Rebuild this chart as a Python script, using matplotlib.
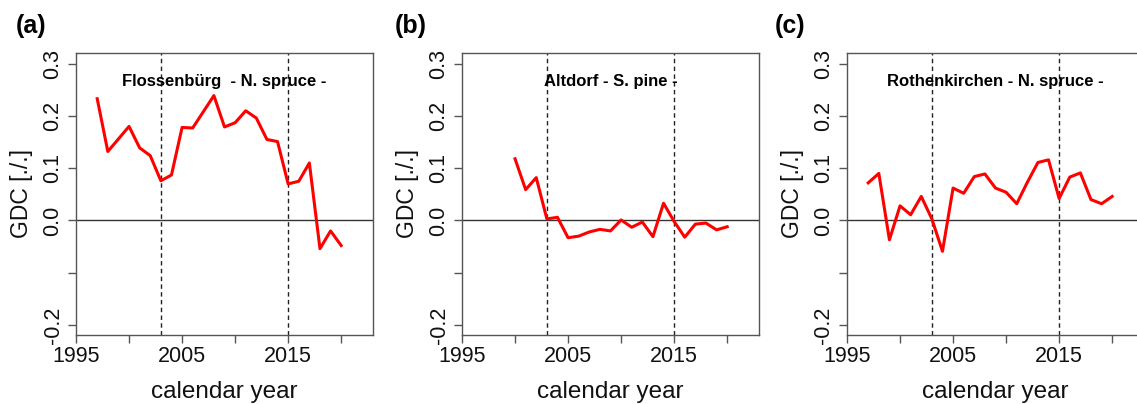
import matplotlib
matplotlib.use("Agg")
import matplotlib.pyplot as plt
import matplotlib.transforms as mtransforms

plt.rcParams['font.family'] = ['Liberation Sans', 'DejaVu Sans']

# Growth-decline coefficient series per site
years_a = list(range(1997, 2021))
gdc_a = [0.233, 0.132, 0.156, 0.180, 0.139, 0.124, 0.076, 0.087, 0.178, 0.177,
         0.208, 0.239, 0.179, 0.187, 0.210, 0.196, 0.155, 0.151, 0.070, 0.075,
         0.110, -0.054, -0.020, -0.048]

years_b = list(range(2000, 2021))
gdc_b = [0.118, 0.059, 0.082, 0.003, 0.006, -0.033, -0.030, -0.022, -0.017, -0.020,
         0.001, -0.013, -0.003, -0.031, 0.033, -0.002, -0.032, -0.007, -0.005,
         -0.018, -0.012]

years_c = list(range(1997, 2021))
gdc_c = [0.072, 0.090, -0.037, 0.028, 0.011, 0.046, 0.003, -0.059, 0.062, 0.052,
         0.084, 0.089, 0.062, 0.054, 0.032, 0.073, 0.111, 0.116, 0.042, 0.083,
         0.091, 0.040, 0.032, 0.046]

site_titles = ["Flossenbürg  - N. spruce -", "Altdorf - S. pine -",
               "Rothenkirchen - N. spruce -"]
panel_tags = ["(a)", "(b)", "(c)"]
event_years = [2003, 2015]

x_ticks = [1995, 2000, 2005, 2010, 2015, 2020]
x_ticklabels = ["1995", "", "2005", "", "2015", ""]
y_ticks = [-0.2, -0.1, 0.0, 0.1, 0.2, 0.3]
y_ticklabels = ["-0.2", "", "0.0", "0.1", "0.2", "0.3"]

W, H = 1137, 404
fig = plt.figure(figsize=(W / 100, H / 100), dpi=100)

lefts = [76, 462, 847]
tag_x = [16, 395, 775]
top_px, bot_px, width_px = 53, 335, 297
frame_col = "#555555"

series = [(years_a, gdc_a), (years_b, gdc_b), (years_c, gdc_c)]

for i, (yrs, vals) in enumerate(series):
    ax = fig.add_axes([lefts[i] / W, 1 - bot_px / H, width_px / W,
                       (bot_px - top_px) / H])
    ax.set_xlim(1995, 2023)
    ax.set_ylim(-0.2192, 0.3205)

    ax.axhline(0, color="#333333", lw=1.0, zorder=2)
    for ev in event_years:
        ax.axvline(ev, color="#222222", lw=1.0, linestyle=(0, (3.2, 2.4)),
                   zorder=2)
    ax.plot(yrs, vals, color="#ff0000", lw=2.2, zorder=3,
            solid_joinstyle="round")

    # site / species caption, centred horizontally, fixed data height
    ax.text(0.5, 0.266, site_titles[i],
            transform=mtransforms.blended_transform_factory(ax.transAxes,
                                                            ax.transData),
            fontsize=12, fontweight="bold", ha="center", va="center",
            zorder=4)

    ax.set_xticks(x_ticks)
    ax.set_xticklabels(x_ticklabels)
    ax.set_yticks(y_ticks)
    ax.set_yticklabels(y_ticklabels)
    ax.tick_params(axis="both", direction="out", length=6, width=1.0,
                   color=frame_col, labelsize=15.5, labelcolor="#111111")
    ax.tick_params(axis="x", pad=2)
    ax.tick_params(axis="y", pad=3, labelrotation=90)
    for lab in ax.get_yticklabels():
        lab.set_va("center")
    for sp in ax.spines.values():
        sp.set_color(frame_col)
        sp.set_linewidth(1.0)

    ax.set_xlabel("calendar year", fontsize=17.5, labelpad=10, color="#111111")
    ax.set_ylabel("GDC [./.]", fontsize=16.5, labelpad=7, color="#111111")

    fig.text(tag_x[i] / W, 1 - 26 / H, panel_tags[i], fontsize=18,
             fontweight="bold", ha="left", va="center")

fig.savefig("out.png", dpi=100)
